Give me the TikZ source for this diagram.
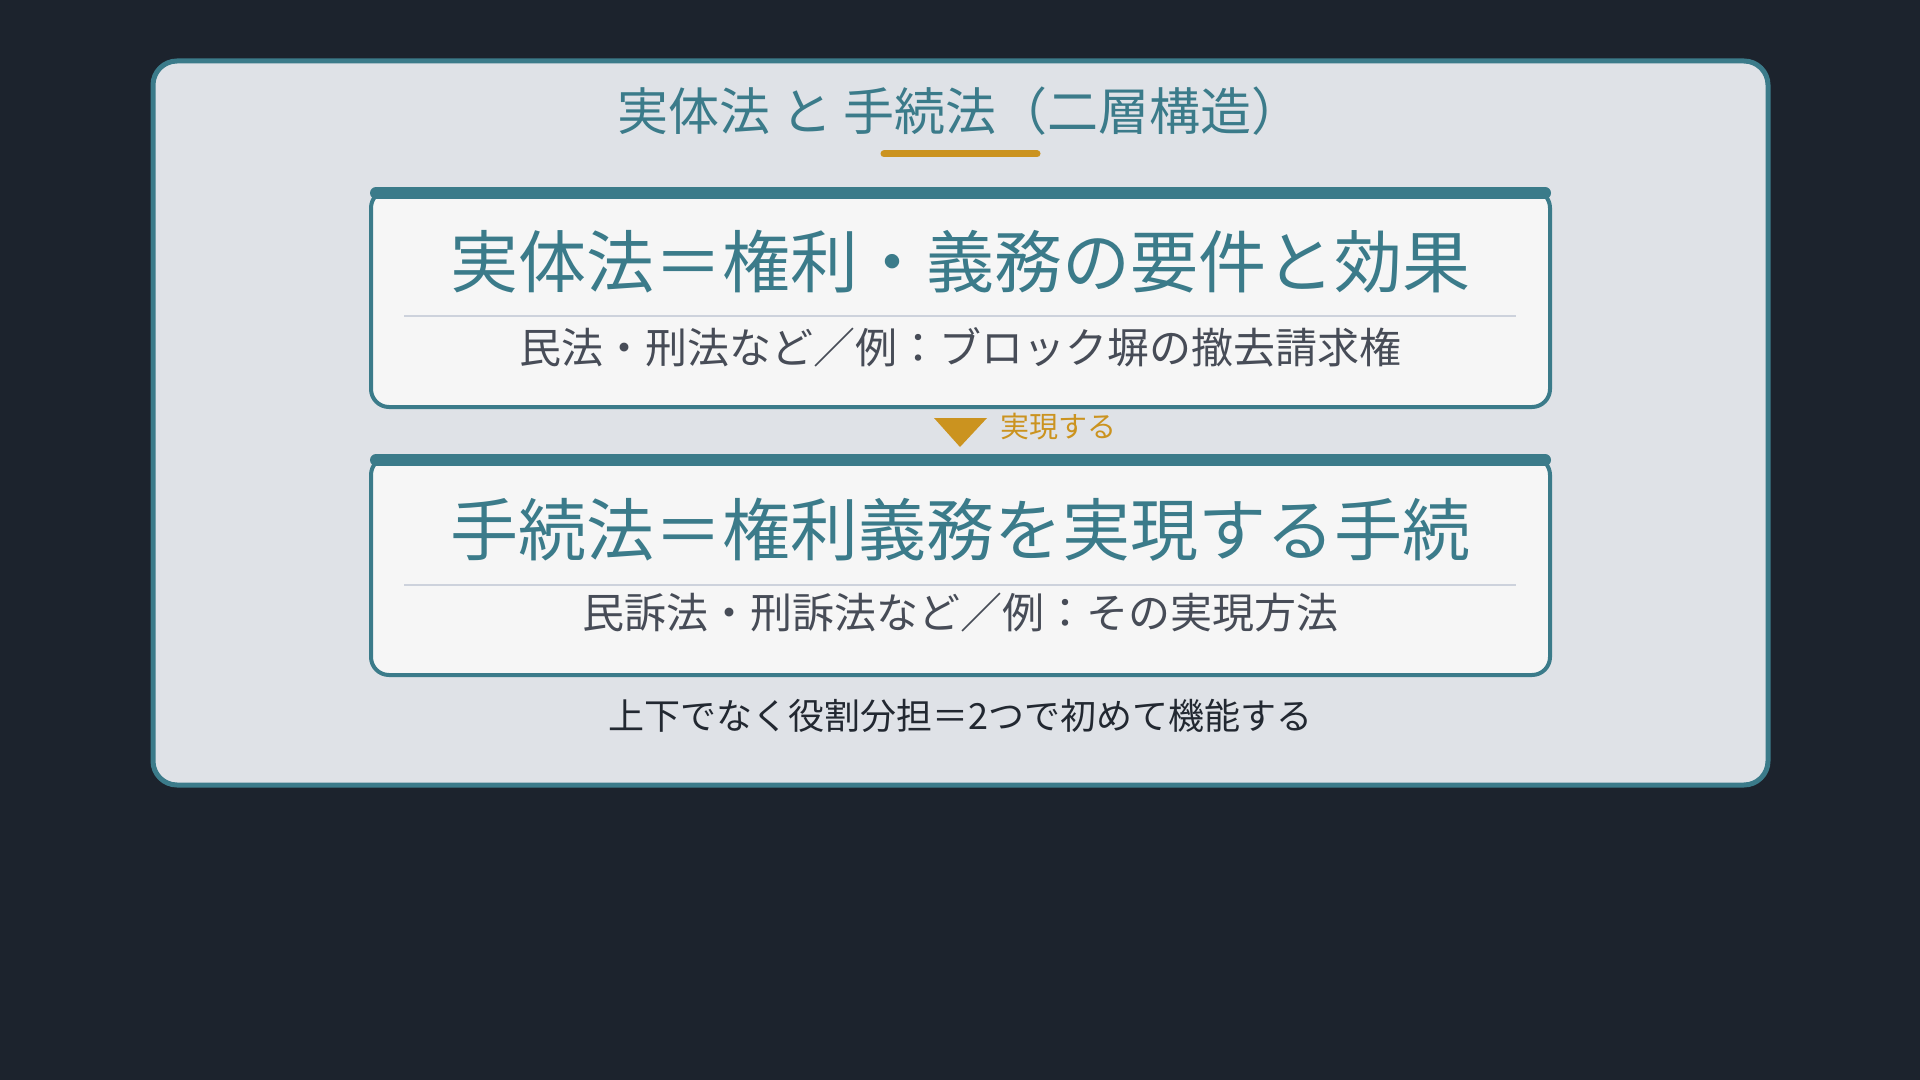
\documentclass[tikz,border=0pt]{standalone}
\usepackage{fontspec}
\newfontfamily\jp{Noto Sans CJK JP}
\definecolor{bg}{HTML}{1C232D}
\definecolor{panel}{HTML}{DFE2E7}
\definecolor{tealc}{HTML}{3B7B8A}
\definecolor{gold}{HTML}{CB931F}
\definecolor{card}{HTML}{F6F6F6}
\definecolor{sep}{HTML}{CDD2DC}
\definecolor{subtxt}{HTML}{474C57}
\definecolor{darktxt}{HTML}{222831}
\tikzset{
  cardbox/.style={draw=tealc, fill=card, line width=2pt, rounded corners=9pt},
  topbar/.style={draw=tealc, line width=6pt, line cap=round},
  sepline/.style={draw=sep, line width=1pt},
  maintxt/.style={text=tealc, font={\jp\fontsize{34pt}{40pt}\selectfont}, inner sep=0pt, anchor=center},
  subtext/.style={text=subtxt, font={\jp\fontsize{21pt}{25pt}\selectfont}, inner sep=0pt, anchor=center},
}
\begin{document}
\begin{tikzpicture}[x=0.5pt,y=-0.5pt]
\fill[bg] (0,0) rectangle (1920,1080);
\useasboundingbox (0,0) rectangle (1920,1080);
% outer panel
\draw[tealc, line width=2.5pt, fill=panel, rounded corners=12pt] (153,61) rectangle (1768,785);
% title
\node[text=tealc, font={\jp\fontsize{25.5pt}{30pt}\selectfont}, inner sep=0pt] (title) at (960,111) {実体法 と 手続法（二層構造）};
\draw[gold, line width=3.5pt, line cap=round] (884,154) -- (1037,154);
% card 1
\path[cardbox] (371,190) rectangle (1550,407);
\draw[topbar] (376,193) -- (1545,193);
\node[maintxt] (m1) at (960,262) {実体法＝権利・義務の要件と効果};
\draw[sepline] (404,316) -- (1516,316);
\node[subtext] (s1) at (960,347) {民法・刑法など／例：ブロック塀の撤去請求権};
% arrow
\fill[gold] (934,418) -- (987,418) -- (960,447) -- cycle;
\node[text=gold, font={\jp\fontsize{14.5pt}{17pt}\selectfont}, inner sep=0pt, anchor=west] (lbl) at (1000,427) {実現する};
% card 2
\path[cardbox] (371,457) rectangle (1550,675);
\draw[topbar] (376,460) -- (1545,460);
\node[maintxt] (m2) at (960,530) {手続法＝権利義務を実現する手続};
\draw[sepline] (404,585) -- (1516,585);
\node[subtext] (s2) at (960,613) {民訴法・刑訴法など／例：その実現方法};
% bottom note
\node[text=darktxt, font={\jp\fontsize{18pt}{22pt}\selectfont}, inner sep=0pt] (note) at (960,716) {上下でなく役割分担＝2つで初めて機能する};
\end{tikzpicture}
\end{document}
